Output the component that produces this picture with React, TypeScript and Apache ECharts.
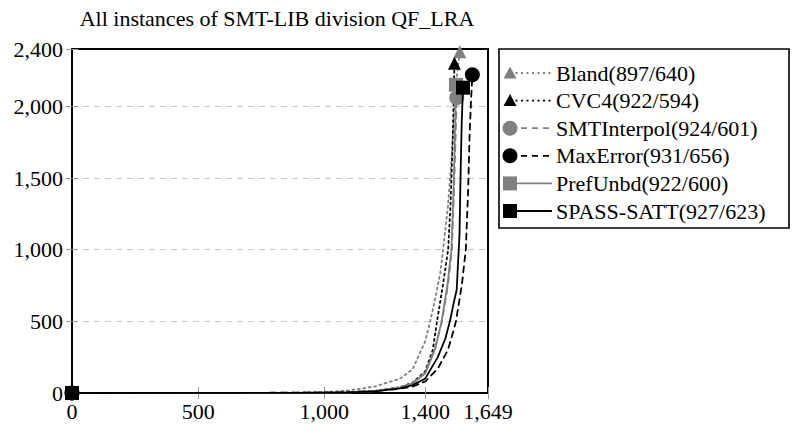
import React, { useEffect, useRef } from 'react';
import * as echarts from 'echarts';

// ---- data ----
const seriesNames = [
  'Bland(897/640)',
  'CVC4(922/594)',
  'SMTInterpol(924/601)',
  'MaxError(931/656)',
  'PrefUnbd(922/600)',
  'SPASS-SATT(927/623)',
];

const bland: [number, number][] = [
  [0, 0], [800, 1], [1000, 6], [1100, 18], [1200, 45], [1300, 100], [1350, 165], [1400, 360],
  [1420, 500], [1440, 660], [1460, 840], [1471, 1000], [1490, 1300], [1505, 1650], [1515, 1950],
  [1525, 2200], [1537, 2380],
];
const cvc4: [number, number][] = [
  [0, 0], [900, 1], [1100, 6], [1200, 15], [1300, 40], [1350, 72], [1400, 150], [1430, 300],
  [1447, 500], [1470, 750], [1491, 1000], [1500, 1300], [1508, 1700], [1513, 2050], [1516, 2300],
];
const smtInterpol: [number, number][] = [
  [0, 0], [900, 1], [1100, 5], [1200, 14], [1300, 38], [1350, 70], [1400, 140], [1440, 320],
  [1467, 500], [1490, 750], [1506, 1000], [1514, 1400], [1520, 1750], [1525, 2060],
];
const maxError: [number, number][] = [
  [0, 0], [1000, 2], [1100, 6], [1200, 14], [1300, 30], [1350, 45], [1400, 80], [1450, 170],
  [1490, 300], [1510, 420], [1522, 500], [1545, 750], [1561, 1000], [1570, 1400], [1576, 1800],
  [1582, 2050], [1587, 2220],
];
const prefUnbd: [number, number][] = [
  [0, 0], [900, 1], [1100, 5], [1200, 14], [1300, 38], [1350, 68], [1400, 135], [1440, 310],
  [1465, 500], [1488, 750], [1504, 1000], [1512, 1400], [1518, 1800], [1522, 2150],
];
const spassSatt: [number, number][] = [
  [0, 0], [900, 1], [1100, 5], [1200, 12], [1300, 32], [1350, 55], [1400, 100], [1450, 250],
  [1480, 380], [1498, 500], [1512, 620], [1525, 720], [1530, 900], [1536, 1100], [1540, 1500],
  [1545, 1900], [1550, 2130],
];
const seriesData = [bland, cvc4, smtInterpol, maxError, prefUnbd, spassSatt];

const xTicks = [0, 500, 1000, 1400, 1649];
const yTicks = [0, 500, 1000, 1500, 2000, 2400];
const titleText = 'All instances of SMT-LIB division QF_LRA';

// ---- styles ----
const GRAY = '#808080';
const BLACK = '#000000';
const seriesColors = [GRAY, BLACK, GRAY, BLACK, GRAY, BLACK];
const seriesSymbols = ['triangle', 'triangle', 'circle', 'circle', 'rect', 'rect'];
const symbolSizes = [13, 13, 15, 15, 14, 14];
const dashes: (number[] | 'solid')[] = [[2, 3.5], [2, 3.5], [6, 5], [6, 5], 'solid', 'solid'];

const GRID_L = 72, GRID_R = 488, GRID_T = 49, GRID_B = 393;

const fmt = (v: number) => v.toLocaleString('en-US');

export default function App() {
  const ref = useRef<HTMLDivElement>(null);
  useEffect(() => {
    if (!ref.current) return;
    const chart = echarts.init(ref.current, undefined, { renderer: 'svg' });

    const series = seriesData.map((d, i) => ({
      type: 'line',
      name: seriesNames[i],
      data: d.map((p, j) =>
        j === 0 || j === d.length - 1 ? { value: p } : { value: p, symbol: 'none' }
      ),
      symbol: seriesSymbols[i],
      symbolSize: symbolSizes[i],
      showSymbol: true,
      clip: false,
      z: 2 + i,
      lineStyle: { color: seriesColors[i], width: 1.8, type: dashes[i] as any, cap: 'round' },
      itemStyle: { color: seriesColors[i], borderWidth: 0 },
    }));

    // legend built as graphic
    const legendEls: any[] = [
      {
        type: 'rect',
        shape: { x: 499, y: 49, width: 290, height: 179 },
        style: { fill: '#fff', stroke: '#000', lineWidth: 1.6 },
      },
    ];
    seriesNames.forEach((name, i) => {
      const y = 73 + i * 27.6;
      const mx = 510;
      legendEls.push({
        type: 'line',
        shape: { x1: mx, y1: y, x2: 552, y2: y },
        style: {
          stroke: seriesColors[i],
          lineWidth: 1.8,
          lineDash: dashes[i] === 'solid' ? null : dashes[i],
        },
      });
      const s = seriesSymbols[i];
      if (s === 'triangle') {
        legendEls.push({
          type: 'polygon',
          shape: { points: [[mx, y - 6.5], [mx - 6.5, y + 5.5], [mx + 6.5, y + 5.5]] },
          style: { fill: seriesColors[i] },
        });
      } else if (s === 'circle') {
        legendEls.push({
          type: 'circle',
          shape: { cx: mx, cy: y, r: 7.5 },
          style: { fill: seriesColors[i] },
        });
      } else {
        legendEls.push({
          type: 'rect',
          shape: { x: mx - 7, y: y - 7, width: 14, height: 14 },
          style: { fill: seriesColors[i] },
        });
      }
      legendEls.push({
        type: 'text',
        x: 556,
        y: y - 11,
        style: {
          text: name,
          fontFamily: 'Liberation Serif',
          fontSize: 22,
          fill: '#000',
        },
      });
    });

    chart.setOption({
      animation: false,
      backgroundColor: '#fff',
      textStyle: { fontFamily: 'Liberation Serif', fontSize: 22 },
      title: {
        text: titleText,
        left: 272,
        textAlign: 'center',
        top: 2,
        textStyle: { fontFamily: 'Liberation Serif', fontSize: 22, fontWeight: 'normal', color: '#000' },
      },
      grid: {
        left: GRID_L,
        top: GRID_T,
        width: GRID_R - GRID_L,
        height: GRID_B - GRID_T,
        show: true,
        borderColor: '#000',
        borderWidth: 2,
        backgroundColor: 'transparent',
      },
      xAxis: [
        {
          type: 'value',
          min: 0,
          max: 1649,
          axisLine: { show: false },
          axisTick: {
            show: true,
            inside: true,
            length: 6,
            customValues: xTicks,
            lineStyle: { color: '#999', width: 1 },
          },
          axisLabel: {
            customValues: xTicks,
            formatter: (v: number) => fmt(v),
            fontFamily: 'Liberation Serif',
            fontSize: 22,
            color: '#000',
            margin: 7,
          },
          splitLine: { show: false },
        },
        {
          type: 'value',
          position: 'top',
          min: 0,
          max: 1649,
          axisLine: { show: false },
          axisTick: {
            show: true,
            inside: true,
            length: 6,
            customValues: xTicks,
            lineStyle: { color: '#999', width: 1 },
          },
          axisLabel: { show: false },
          splitLine: { show: false },
        },
      ],
      yAxis: [
        {
          type: 'value',
          min: 0,
          max: 2400,
          interval: 500,
          axisLine: { show: false },
          axisTick: {
            show: true,
            inside: true,
            length: 6,
            lineStyle: { color: '#999', width: 1 },
          },
          axisLabel: {
            customValues: yTicks,
            formatter: (v: number) => fmt(v),
            fontFamily: 'Liberation Serif',
            fontSize: 22,
            color: '#000',
            margin: 9,
          },
          splitLine: {
            show: true,
            showMinLine: false,
            showMaxLine: false,
            lineStyle: { color: '#c8c8c8', width: 1, type: [6, 5] },
          },
        },
        {
          type: 'value',
          position: 'right',
          min: 0,
          max: 2400,
          interval: 500,
          axisLine: { show: false },
          axisTick: {
            show: true,
            inside: true,
            length: 6,
            lineStyle: { color: '#999', width: 1 },
          },
          axisLabel: { show: false },
          splitLine: { show: false },
        },
      ],
      series,
      graphic: { elements: legendEls },
    });

    return () => chart.dispose();
  }, []);

  return (
    <div
      ref={ref}
      style={{ position: 'fixed', left: 0, top: 0, width: 797, height: 425, background: '#fff' }}
    />
  );
}
